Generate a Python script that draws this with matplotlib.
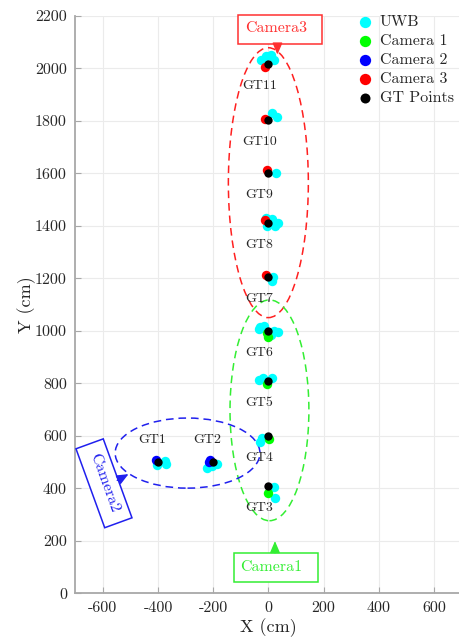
import matplotlib
matplotlib.use("Agg")
import matplotlib.pyplot as plt
from matplotlib.patches import Ellipse, Rectangle
from matplotlib.transforms import Affine2D

plt.rcParams['font.family'] = ['cmr10', 'DejaVu Serif']
plt.rcParams['mathtext.fontset'] = 'cm'
plt.rcParams['axes.unicode_minus'] = False
plt.rcParams['axes.formatter.use_mathtext'] = False

# ---------------- data ----------------
uwb_x = [-402, -375, -372, -222, -185, -205, 19, 25, -23, -29, -35, -18, 13,
         -30, -15, 20, 35, -35, 10, 18, 15, -10, 15, 35, 25, -5, 29, 14, 32,
         -25, -10, 10, 20]
uwb_y = [488, 504, 492, 479, 492, 485, 405, 363, 590, 577, 812, 820, 821,
         1015, 1020, 1000, 995, 1005, 985, 1206, 1190, 1430, 1425, 1410, 1400,
         1400, 1602, 1830, 1815, 2030, 2045, 2050, 2030]
cam1_x = [-5, -3, -5, 1, -2]
cam1_y = [990, 977, 797, 586, 382]
cam2_x = [-408, -216, -210]
cam2_y = [507, 500, 507]
cam3_x = [-8, -11, -5, -11, -11]
cam3_y = [1212, 1422, 1613, 1807, 2004]
gt_x = [-400, -200, 0, 0, 0, 0, 0, 0, 0, 0, 0]
gt_y = [500, 500, 410, 600, 810, 1000, 1205, 1410, 1602, 1803, 2015]
gt_labels = ['GT1', 'GT2', 'GT3', 'GT4', 'GT5', 'GT6', 'GT7', 'GT8', 'GT9',
             'GT10', 'GT11']
series_names = ['UWB', 'Camera 1', 'Camera 2', 'Camera 3', 'GT Points']
camera_names = ['Camera1', 'Camera2', 'Camera3']
x_ticks = [-600, -400, -200, 0, 200, 400, 600]
y_ticks = list(range(0, 2201, 200))

# ---------------- figure ----------------
DPI = 100
fig = plt.figure(figsize=(4.6, 6.39), dpi=DPI)
ax = fig.add_axes([75.3 / 460, 1 - 593.3 / 639, 386.1 / 460, 577.6 / 639])
ax.set_xlim(-700, 700)
ax.set_ylim(0, 2200)
ax.set_xticks(x_ticks)
ax.set_yticks(y_ticks)
ax.grid(True, color='#ebebeb', lw=0.8)
ax.set_axisbelow(True)
for s in ['top', 'right']:
    ax.spines[s].set_visible(False)
for s in ['left', 'bottom']:
    ax.spines[s].set_color('#a8a8a8')
    ax.spines[s].set_linewidth(1.3)
ax.tick_params(direction='in', length=4, color='#a8a8a8', labelsize=11.5,
               labelcolor='#262626', pad=6)
ax.set_xlabel('X (cm)', fontsize=13, color='#262626', labelpad=2)
ax.set_ylabel('Y (cm)', fontsize=13, color='#262626', labelpad=-1)

ms = 46
ax.scatter(uwb_x, uwb_y, s=ms, c='#00ffff', lw=0, label=series_names[0], zorder=3)
ax.scatter(cam1_x, cam1_y, s=ms, c='#00ff00', lw=0, label=series_names[1], zorder=4)
ax.scatter(cam2_x, cam2_y, s=ms, c='#0000ff', lw=0, label=series_names[2], zorder=4)
ax.scatter(cam3_x, cam3_y, s=ms, c='#ff0000', lw=0, label=series_names[3], zorder=4)
ax.scatter(gt_x, gt_y, s=36, c='black', lw=0, label=series_names[4], zorder=5)

for i, (gx, gy, lab) in enumerate(zip(gt_x, gt_y, gt_labels)):
    if gx < 0:
        tx, ty = gx - 20, gy + 84
    else:
        tx, ty = gx - 33, gy - 84
    ax.text(tx, ty, lab, fontsize=10, ha='center', va='center', color='#262626',
            zorder=6)

dash = (0, (5, 3.2))
ax.add_patch(Ellipse((0, 1564), 290, 1028, fill=False, ec='#ff2020', lw=1.1,
                     ls=dash, zorder=2))
ax.add_patch(Ellipse((4, 697), 286, 841, fill=False, ec='#33ee33', lw=1.1,
                     ls=dash, zorder=2))
ax.add_patch(Ellipse((-293, 534), 525, 267, fill=False, ec='#2020ee', lw=1.1,
                     ls=dash, zorder=2))

# camera boxes (fixed pixel size, centred on a data point)
def cam_box(cx, cy, ang, color):
    px, py = ax.transData.transform((cx, cy))
    tr = Affine2D().rotate_deg(ang).translate(px, py)
    r = Rectangle((-42, -14.5), 84, 29, fill=True, fc='white', ec=color,
                  lw=1.1, transform=tr, zorder=7, clip_on=False)
    ax.add_patch(r)

cam_box(44, 2146, 0, '#ff3030')
ax.text(27, 2152, camera_names[2], fontsize=11.5, color='#ff3030', ha='center',
        va='center', zorder=8)
cam_box(26, 99, 0, '#33ee33')
ax.text(12, 100, camera_names[0], fontsize=11.5, color='#33ee33', ha='center',
        va='center', zorder=8)
cam_box(-596, 419, -70, '#2020ee')
ax.text(-596, 419, camera_names[1], fontsize=11.5, color='#2020ee', ha='center',
        va='center', rotation=-70, rotation_mode='anchor', zorder=8)

arr = dict(arrowstyle='-|>,head_length=0.7,head_width=0.3', lw=1.0,
           shrinkA=0, shrinkB=0)
ax.annotate('', xy=(33, 2052), xytext=(33, 2092),
            arrowprops=dict(color='#ff3030', **arr), zorder=8)
ax.annotate('', xy=(24, 199), xytext=(24, 154),
            arrowprops=dict(color='#33ee33', **arr), zorder=8)
ax.annotate('', xy=(-507, 454), xytext=(-548, 430),
            arrowprops=dict(color='#2020ee', **arr), zorder=8)

leg = ax.legend(loc='upper left', bbox_to_anchor=(0.71, 1.012), frameon=False,
                fontsize=11.5, handletextpad=0.3, labelspacing=0.3,
                borderaxespad=0, handlelength=1.2, markerscale=1.2)
for t in leg.get_texts():
    t.set_color('#262626')

fig.savefig('out.png', dpi=DPI)
